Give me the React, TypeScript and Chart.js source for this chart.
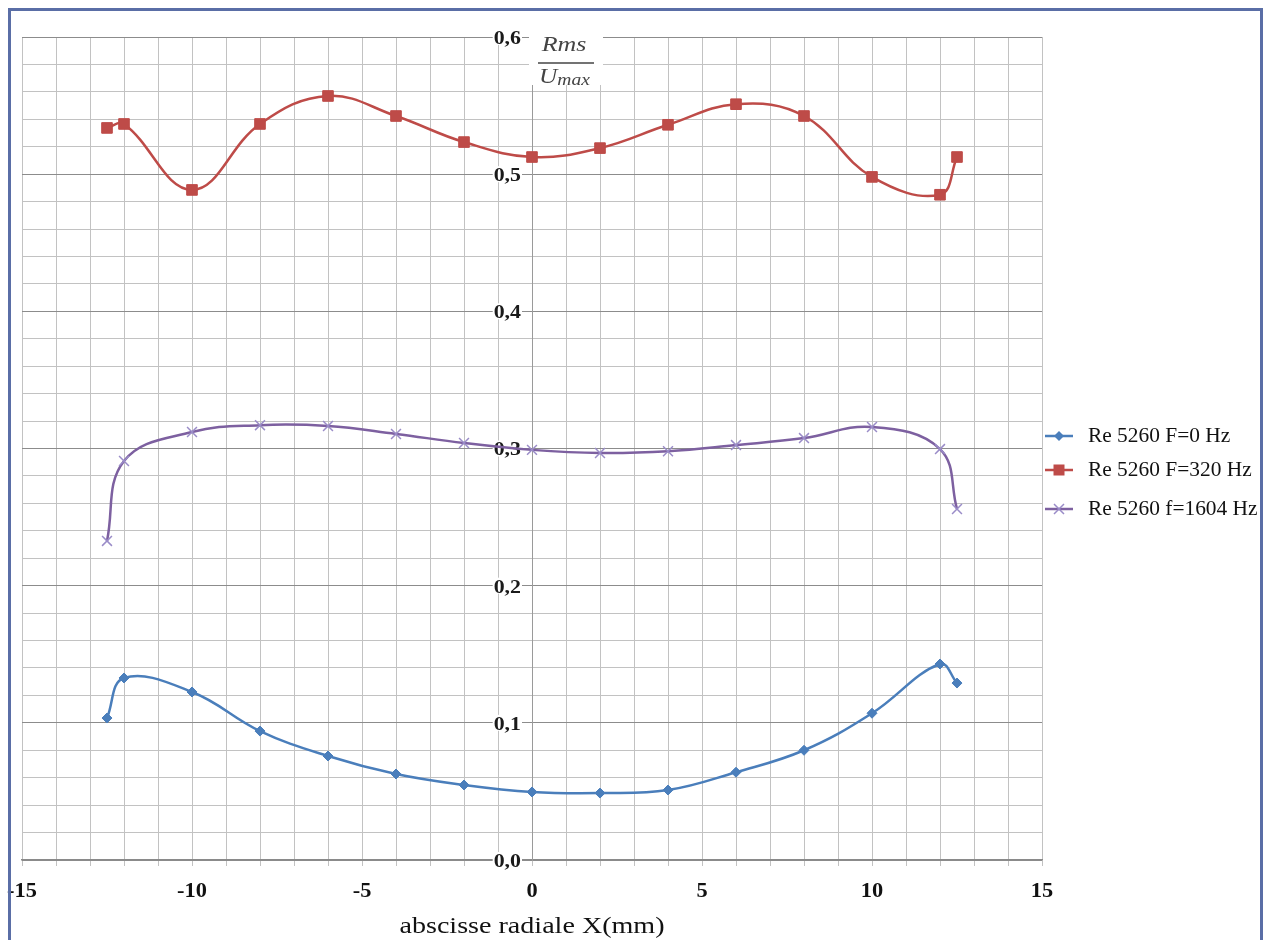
import React, { useEffect, useRef } from 'react';
import { Chart, registerables } from 'chart.js';

Chart.register(...registerables);

// ---- data ----
const xPositions = [-12.5, -12, -10, -8, -6, -4, -2, 0, 2, 4, 6, 8, 10, 12, 12.5];
const seriesLabels = ['Re 5260 F=0 Hz', 'Re 5260 F=320 Hz', 'Re 5260 f=1604 Hz'];
const f0Values = [0.1035, 0.1327, 0.1225, 0.094, 0.0758, 0.0627, 0.0547, 0.0496, 0.0488, 0.051, 0.064, 0.080, 0.107, 0.1429, 0.129];
const f320Values = [0.5337, 0.5366, 0.4885, 0.5366, 0.557, 0.5424, 0.5234, 0.5125, 0.519, 0.536, 0.551, 0.5424, 0.498, 0.485, 0.5125];
const f1604Values = [0.2326, 0.2909, 0.312, 0.317, 0.3164, 0.3106, 0.304, 0.299, 0.2967, 0.298, 0.3025, 0.3076, 0.3157, 0.2996, 0.2559];
const xTickLabels = [-15, -10, -5, 0, 5, 10, 15];
const yTickLabels = [0, 0.1, 0.2, 0.3, 0.4, 0.5, 0.6];
const xAxisTitle = 'abscisse radiale X(mm)';
const yTitleNumerator = 'Rms';
const yTitleDenominator = 'U';
const yTitleSub = 'max';

const colors = ['#4A7EBB', '#BE4B48', '#7D60A0'];
const SERIF = '"Liberation Serif", "Times New Roman", serif';

const fmtY = (v: number) => v.toFixed(1).replace('.', ',');

// draw text with a horizontal stretch
function stretchText(ctx: any, text: string, x: number, y: number, sx: number, align: 'left' | 'center' | 'right') {
  const w = ctx.measureText(text).width * sx;
  let left = x;
  if (align === 'center') left = x - w / 2;
  else if (align === 'right') left = x - w;
  ctx.save();
  ctx.textAlign = 'left';
  ctx.translate(left, y);
  ctx.scale(sx, 1);
  ctx.fillText(text, 0, 0);
  ctx.restore();
  return w;
}

const overlayPlugin = {
  id: 'overlay',
  beforeDatasetsDraw(chart: any) {
    const { ctx } = chart;
    const xs = chart.scales.x;
    const ys = chart.scales.y;
    const ax = xs.getPixelForValue(0);
    ctx.save();
    ctx.font = `bold 19px ${SERIF}`;
    ctx.textBaseline = 'middle';
    yTickLabels.forEach((v) => {
      const y = ys.getPixelForValue(v);
      const t = fmtY(v);
      const w = ctx.measureText(t).width * 1.15;
      ctx.fillStyle = '#ffffff';
      ctx.fillRect(ax - 11 - w - 1, y - 8, w + 2, 16);
      ctx.fillStyle = '#1a1a1a';
      stretchText(ctx, t, ax - 11, y + 2, 1.15, 'right');
    });
    ctx.restore();
  },
  afterDraw(chart: any) {
    const { ctx } = chart;
    const xs = chart.scales.x;
    const ys = chart.scales.y;
    const ax = xs.getPixelForValue(0);
    const top = ys.getPixelForValue(0.6);
    const bottom = ys.getPixelForValue(0);
    ctx.save();

    // x tick labels
    ctx.fillStyle = '#111';
    ctx.font = `bold 20px ${SERIF}`;
    ctx.textBaseline = 'middle';
    xTickLabels.forEach((v) => {
      stretchText(ctx, String(v), xs.getPixelForValue(v), bottom + 32, 1.12, 'center');
    });

    // x axis title
    ctx.font = `24px ${SERIF}`;
    stretchText(ctx, xAxisTitle, xs.getPixelForValue(0), bottom + 67, 1.17, 'center');

    // y axis title as fraction
    ctx.fillStyle = '#ffffff';
    ctx.fillRect(ax - 3, top - 14, 74, 62);
    ctx.fillStyle = '#444';
    ctx.font = `italic 22px ${SERIF}`;
    ctx.textBaseline = 'alphabetic';
    stretchText(ctx, yTitleNumerator, ax + 32, top + 14, 1.18, 'center');
    ctx.strokeStyle = '#444';
    ctx.lineWidth = 1.3;
    ctx.beginPath();
    ctx.moveTo(ax + 6, top + 26);
    ctx.lineTo(ax + 62, top + 26);
    ctx.stroke();
    ctx.font = `italic 22px ${SERIF}`;
    const uw = stretchText(ctx, yTitleDenominator, ax + 7, top + 46, 1.15, 'left');
    ctx.font = `italic 17px ${SERIF}`;
    stretchText(ctx, yTitleSub, ax + 7 + uw, top + 48, 1.15, 'left');

    // legend
    const lx = 1045;
    const ly = [436, 470, 509];
    seriesLabels.forEach((lab, i) => {
      const y = ly[i];
      ctx.strokeStyle = colors[i];
      ctx.lineWidth = 2.5;
      ctx.beginPath();
      ctx.moveTo(lx, y);
      ctx.lineTo(lx + 28, y);
      ctx.stroke();
      const cx = lx + 14;
      if (i === 0) {
        ctx.fillStyle = colors[0];
        ctx.beginPath();
        ctx.moveTo(cx, y - 5);
        ctx.lineTo(cx + 5, y);
        ctx.lineTo(cx, y + 5);
        ctx.lineTo(cx - 5, y);
        ctx.closePath();
        ctx.fill();
      } else if (i === 1) {
        ctx.fillStyle = colors[1];
        ctx.fillRect(cx - 5.5, y - 5.5, 11, 11);
      } else {
        ctx.strokeStyle = '#9a8cc8';
        ctx.lineWidth = 1.5;
        ctx.beginPath();
        ctx.moveTo(cx - 5, y - 5);
        ctx.lineTo(cx + 5, y + 5);
        ctx.moveTo(cx + 5, y - 5);
        ctx.lineTo(cx - 5, y + 5);
        ctx.stroke();
      }
      ctx.fillStyle = '#111';
      ctx.font = `20px ${SERIF}`;
      ctx.textBaseline = 'middle';
      stretchText(ctx, lab, lx + 43, y + 1, 1.07, 'left');
    });
    ctx.restore();
  },
};

export default function App() {
  const ref = useRef<HTMLCanvasElement | null>(null);

  useEffect(() => {
    if (!ref.current) return;
    const mk = (vals: number[]) => xPositions.map((x, i) => ({ x, y: vals[i] }));
    const chart = new Chart(ref.current, {
      type: 'scatter',
      data: {
        datasets: [
          {
            label: seriesLabels[0],
            data: mk(f0Values),
            showLine: true,
            borderColor: colors[0],
            backgroundColor: colors[0],
            borderWidth: 2.5,
            pointStyle: 'rectRot',
            pointRadius: 5,
            pointBorderWidth: 1,
            tension: 0.4,
          },
          {
            label: seriesLabels[1],
            data: mk(f320Values),
            showLine: true,
            borderColor: colors[1],
            backgroundColor: colors[1],
            borderWidth: 2.5,
            pointStyle: 'rect',
            pointRadius: 7.5,
            pointBorderWidth: 1,
            tension: 0.4,
          },
          {
            label: seriesLabels[2],
            data: mk(f1604Values),
            showLine: true,
            borderColor: colors[2],
            backgroundColor: '#9a8cc8',
            borderWidth: 2.5,
            pointStyle: 'crossRot',
            pointRadius: 7,
            pointBorderColor: '#9a8cc8',
            pointBorderWidth: 1.5,
            tension: 0.4,
          },
        ],
      },
      options: {
        responsive: false,
        animation: false,
        layout: { padding: { left: 22, right: 224, top: 37, bottom: 0 } },
        plugins: {
          legend: { display: false },
          tooltip: { enabled: false },
        },
        scales: {
          x: {
            type: 'linear',
            min: -15,
            max: 15,
            afterFit: (s: any) => {
              s.height = 80;
            },
            ticks: {
              stepSize: 1,
              autoSkip: false,
              display: false,
            },
            grid: {
              color: '#c2c2c2',
              lineWidth: 1,
              tickLength: 6,
            },
            border: { color: '#8a8a8a', width: 1.5 },
          },
          y: {
            type: 'linear',
            min: 0,
            max: 0.6,
            position: { x: 0 } as any,
            ticks: { stepSize: 0.02, display: false },
            grid: {
              color: (c: any) => {
                const v = Math.round((c.tick?.value ?? 0) * 100);
                return v % 10 === 0 ? '#8c8c8c' : '#c2c2c2';
              },
              lineWidth: 1,
              tickLength: 5,
            },
            border: { color: '#9a9a9a', width: 1 },
          },
        },
      },
      plugins: [overlayPlugin],
    });
    return () => chart.destroy();
  }, []);

  return (
    <div style={{ position: 'fixed', left: 0, top: 0, width: 1266, height: 940, background: '#fff' }}>
      <div
        style={{
          position: 'absolute',
          left: 8,
          top: 8,
          width: 1249,
          height: 960,
          borderTop: '3px solid #5a6ea6',
          borderLeft: '3px solid #5a6ea6',
          borderRight: '3px solid #5a6ea6',
          pointerEvents: 'none',
          zIndex: 2,
        }}
      />
      <canvas ref={ref} width={1266} height={940} style={{ position: 'absolute', left: 0, top: 0 }} />
    </div>
  );
}
